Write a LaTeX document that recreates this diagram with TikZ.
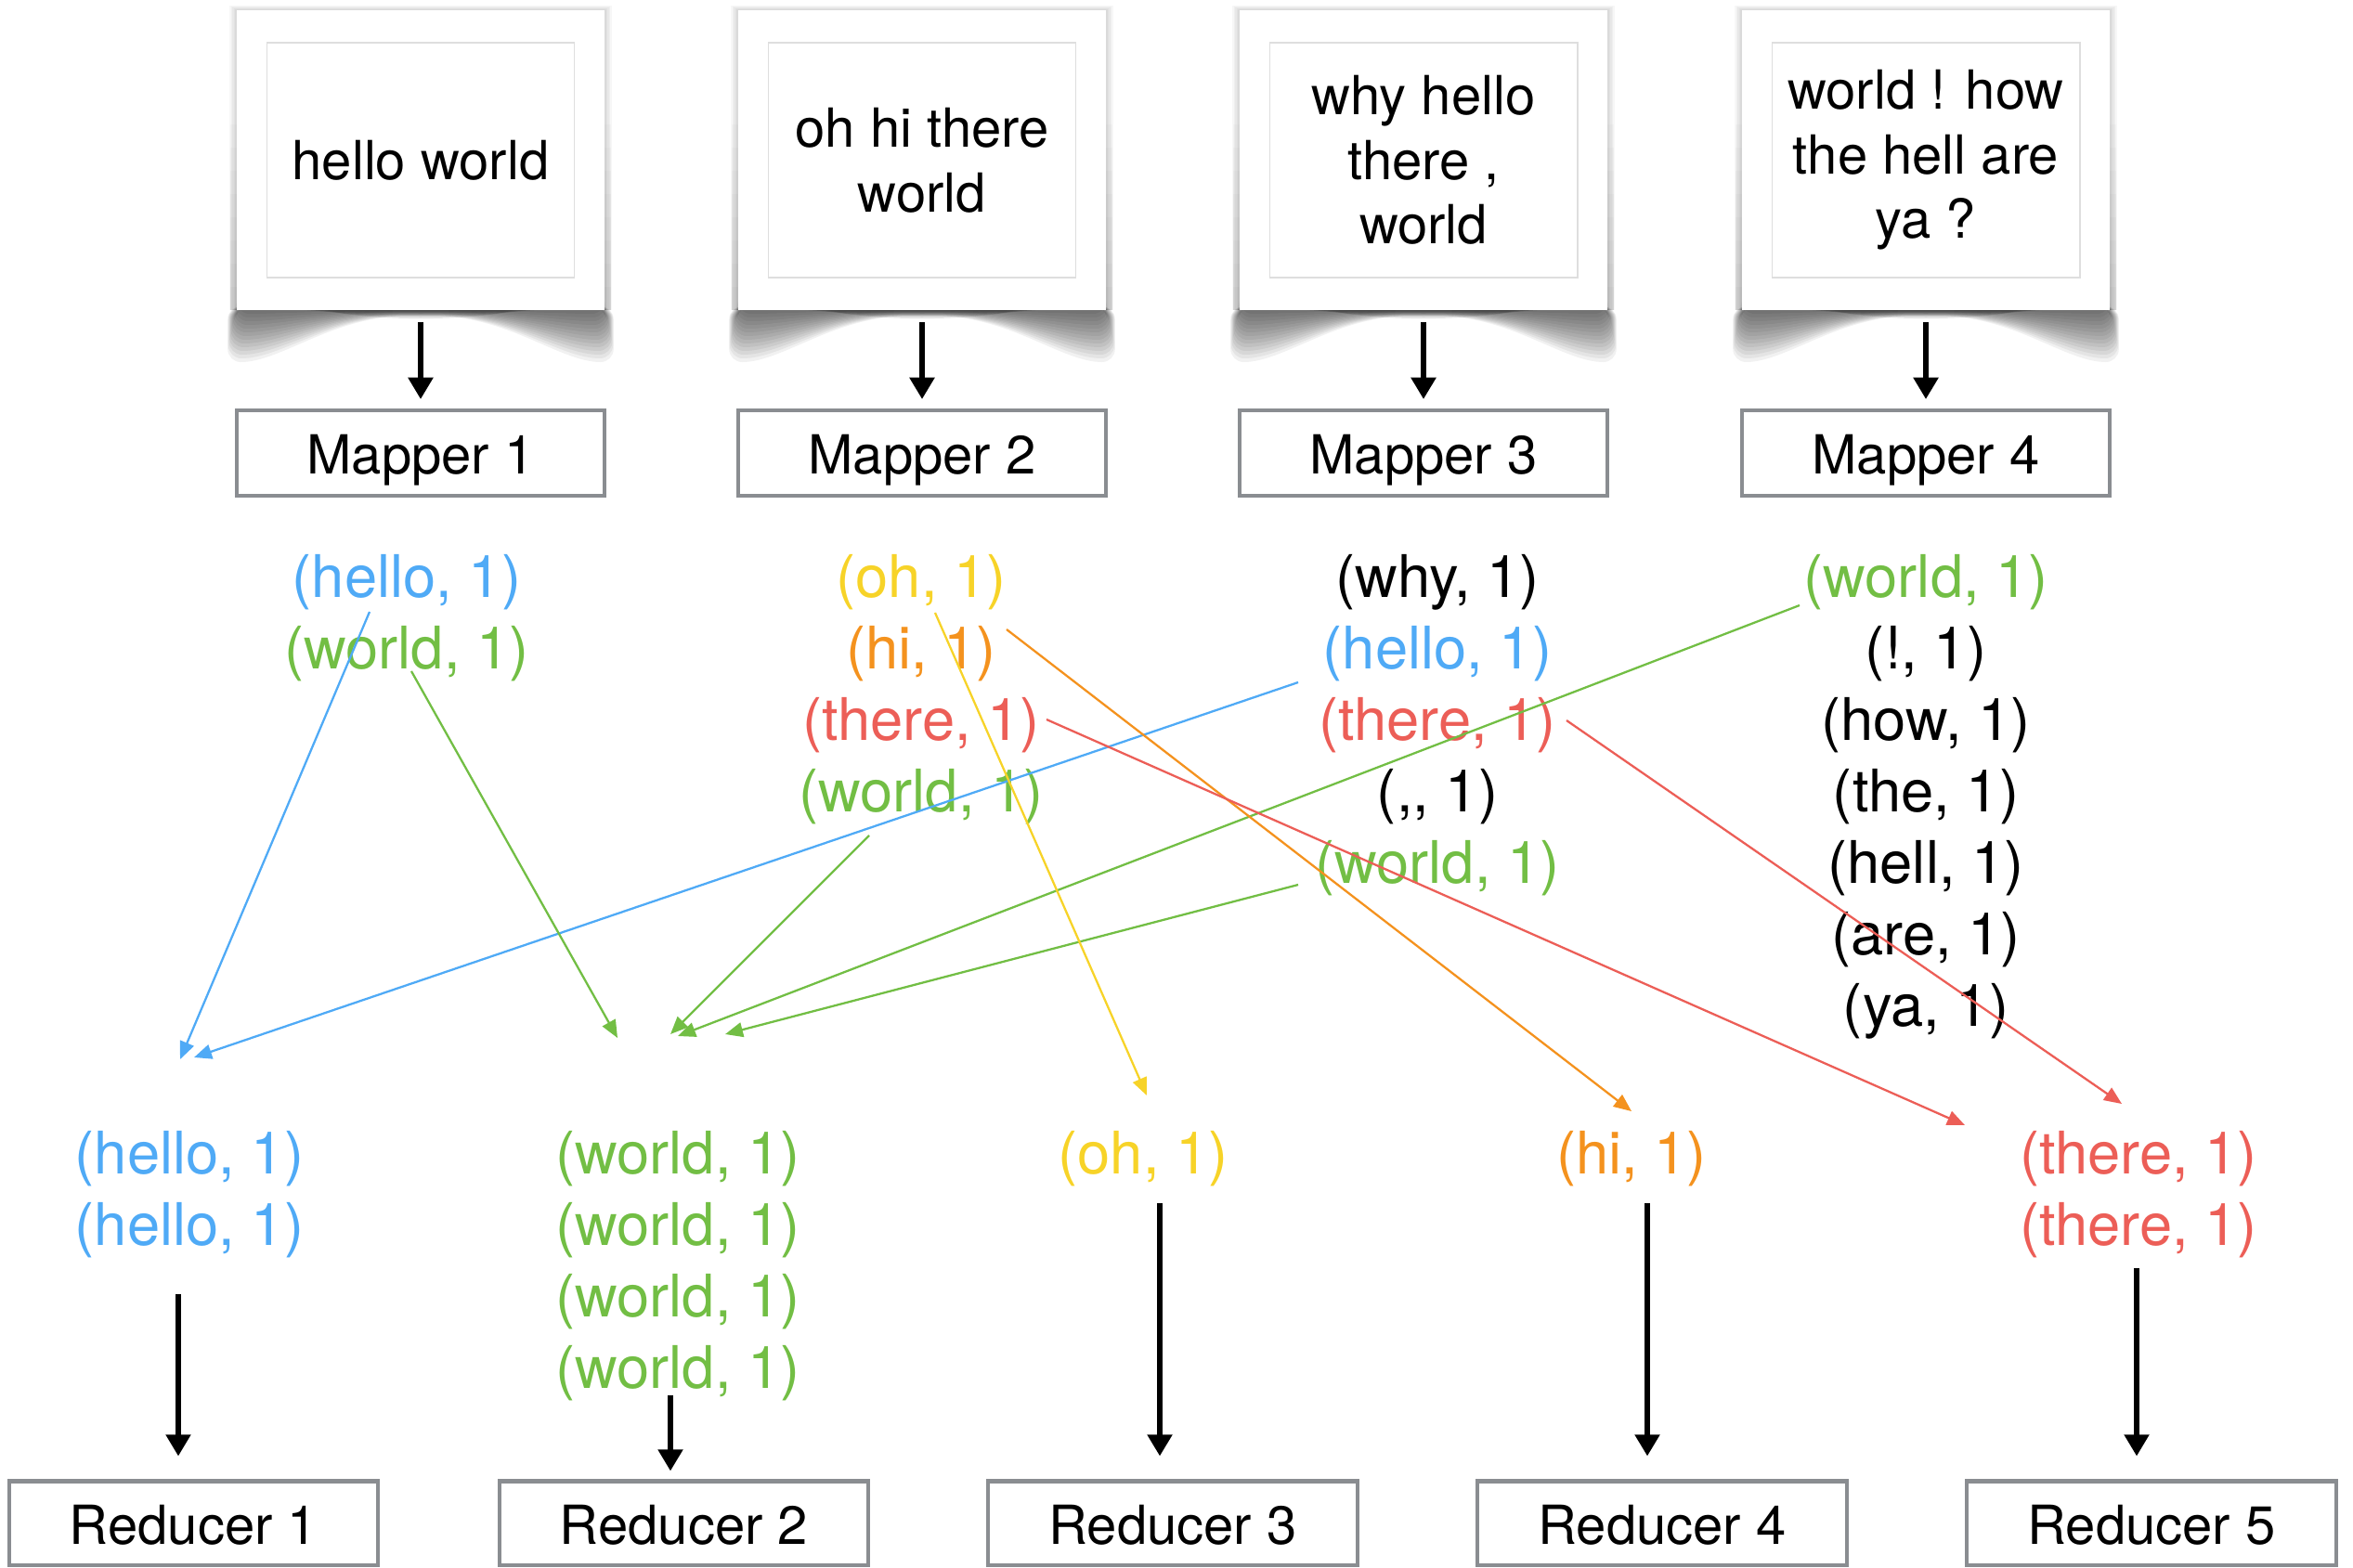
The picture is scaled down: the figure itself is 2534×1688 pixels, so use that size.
\documentclass[tikz,border=0pt]{standalone}
\usepackage{fontspec}
\setmainfont{TeX Gyre Heros}
\usetikzlibrary{arrows.meta}

\definecolor{kvblue}{RGB}{79,170,246}
\definecolor{kvgreen}{RGB}{114,190,68}
\definecolor{kvyellow}{RGB}{247,211,40}
\definecolor{kvorange}{RGB}{244,146,30}
\definecolor{kvred}{RGB}{236,94,87}
\definecolor{boxgray}{RGB}{138,141,145}
\definecolor{innergray}{RGB}{222,222,222}

\tikzset{
  stagebox/.style={draw=boxgray, line width=1.15pt, fill=white,
    minimum width=3.96cm, minimum height=0.92cm, inner sep=0pt,
    font=\fontsize{16.5}{19.8}\selectfont, text height=13pt, text depth=0pt},
  paper/.style={fill=white, minimum width=3.96cm, minimum height=3.23cm, inner sep=0pt},
  doctext/.style={draw=innergray, line width=0.5pt, minimum width=3.31cm,
    minimum height=2.53cm, inner sep=0pt, align=center,
    font=\fontsize{16.5}{19.8}\selectfont},
  pair/.style={anchor=base, inner sep=0pt, font=\fontsize{18}{21.9}\selectfont},
  flow/.style={-{Triangle[length=6.6pt,width=7.4pt]}, line width=1.5pt},
  route/.style={-{Triangle[length=5.4pt,width=4.5pt]}, line width=0.65pt},
}

\begin{document}
\begin{tikzpicture}[x=0.01cm, y=-0.01cm]
\useasboundingbox (0,0) rectangle (2534,1688);

% curled-page shadows under the input documents (bottom edge at y=334)
\foreach \cx in {453,993,1533,2074} {
  \begin{scope}[shift={(\cx,0)}]
    % soft drop shadow along the sides, darker towards the bottom
    \foreach \k in {1,...,5}
      \fill[black, opacity=0.03] (-198-1.6*\k,11-\k) rectangle (198+1.6*\k,334);
    \foreach \k in {1,...,8}
      \fill[black, opacity=0.02] (-205,334-25*\k) rectangle (205,334);
    % the curl: deep at the corners, shallow in the middle
    \foreach \k in {1,...,14} {
      \pgfmathsetmacro{\c}{4*\k}
      \pgfmathsetmacro{\m}{0.45*\k}
      \pgfmathsetmacro{\s}{0.7*\k}
      \fill[black, opacity=0.055, rounded corners=4]
        (-198-\s,330) -- (-198-\s,334+\c)
        .. controls (-150,334+\c) and (-95,334+\m) .. (0,334+\m)
        .. controls (95,334+\m) and (150,334+\c) .. (198+\s,334+\c)
        -- (198+\s,330) -- cycle;
    }
    \foreach \k in {1,...,5}
      \fill[black, opacity=0.1]
        (-165+12*\k,333) .. controls (-60,334+2.5*\k) and (60,334+2.5*\k) .. (165-12*\k,333) -- cycle;
  \end{scope}
}

% input documents
\node[paper] (d1) at (453,172.5) {};
\node[paper] (d2) at (993,172.5) {};
\node[paper] (d3) at (1533,172.5) {};
\node[paper] (d4) at (2074,172.5) {};
\node[doctext] (t1) at (453,172.5) {hello world};
\node[doctext] (t2) at (993,172.5) {oh hi there\\world};
\node[doctext] (t3) at (1533,172.5) {why hello\\there ,\\world};
\node[doctext] (t4) at (2074,172.5) {world ! how\\the hell are\\ya ?};

% mappers
\node[stagebox] (m1) at (453,488) {Mapper 1};
\node[stagebox] (m2) at (993,488) {Mapper 2};
\node[stagebox] (m3) at (1533,488) {Mapper 3};
\node[stagebox] (m4) at (2074,488) {Mapper 4};

\foreach \i in {1,2,3,4}
  \draw[flow, shorten <=0.12cm, shorten >=0.1cm] (d\i) -- (m\i);

% mapper output pairs
\node[pair, kvblue]  (c1a) at (438,643) {(hello, 1)};
\node[pair, kvgreen] (c1b) at (438,720) {(world, 1)};

\node[pair, kvyellow] (c2a) at (992,643) {(oh, 1)};
\node[pair, kvorange] (c2b) at (992,720) {(hi, 1)};
\node[pair, kvred]    (c2c) at (992,797) {(there, 1)};
\node[pair, kvgreen]  (c2d) at (992,874) {(world, 1)};

\node[pair]          (c3a) at (1548,643) {(why, 1)};
\node[pair, kvblue]  (c3b) at (1548,720) {(hello, 1)};
\node[pair, kvred]   (c3c) at (1548,797) {(there, 1)};
\node[pair]          (c3d) at (1548,874) {(,{},{} 1)};
\node[pair, kvgreen] (c3e) at (1548,951) {(world, 1)};

\node[pair, kvgreen] (c4a) at (2074,643) {(world, 1)};
\node[pair] (c4b) at (2074,720) {(!, 1)};
\node[pair] (c4c) at (2074,797) {(how, 1)};
\node[pair] (c4d) at (2074,874) {(the, 1)};
\node[pair] (c4e) at (2074,951) {(hell, 1)};
\node[pair] (c4f) at (2074,1028) {(are, 1)};
\node[pair] (c4g) at (2074,1105) {(ya, 1)};

% reducer input groups
\node[pair, kvblue] (g1a) at (204,1264) {(hello, 1)};
\node[pair, kvblue] (g1b) at (204,1341) {(hello, 1)};
\node[pair, kvgreen] (g2a) at (730,1264) {(world, 1)};
\node[pair, kvgreen] (g2b) at (730,1341) {(world, 1)};
\node[pair, kvgreen] (g2c) at (730,1418) {(world, 1)};
\node[pair, kvgreen] (g2d) at (730,1495) {(world, 1)};
\node[pair, kvyellow] (g3a) at (1231,1264) {(oh, 1)};
\node[pair, kvorange] (g4a) at (1757,1264) {(hi, 1)};
\node[pair, kvred] (g5a) at (2303,1264) {(there, 1)};
\node[pair, kvred] (g5b) at (2303,1341) {(there, 1)};

% shuffle routes
\coordinate (b1s) at (398,659);   \coordinate (b1e) at (194,1141);
\coordinate (b2s) at (1398,735);  \coordinate (b2e) at (209,1139);
\coordinate (w1s) at (443,723);   \coordinate (w1e) at (665,1118);
\coordinate (w2s) at (936,900);   \coordinate (w2e) at (722,1114);
\coordinate (w3s) at (1938,652);  \coordinate (w3e) at (730,1116);
\coordinate (w4s) at (1398,953);  \coordinate (w4e) at (781,1114);
\coordinate (ohs) at (1007,660);  \coordinate (ohe) at (1235,1180);
\coordinate (his) at (1084,678);  \coordinate (hie) at (1757,1197);
\coordinate (t1s) at (1127,775);  \coordinate (t1e) at (2116,1212);
\coordinate (t2s) at (1687,776);  \coordinate (t2e) at (2285,1189);

\draw[route, kvblue] (b1s) -- (b1e);
\draw[route, kvblue] (b2s) -- (b2e);
\draw[route, kvgreen] (w1s) -- (w1e);
\draw[route, kvgreen] (w2s) -- (w2e);
\draw[route, kvgreen] (w3s) -- (w3e);
\draw[route, kvgreen] (w4s) -- (w4e);
\draw[route, kvyellow] (ohs) -- (ohe);
\draw[route, kvorange] (his) -- (hie);
\draw[route, kvred] (t1s) -- (t1e);
\draw[route, kvred] (t2s) -- (t2e);

% reducers
\tikzset{redbox/.style={stagebox, minimum width=3.97cm, minimum height=0.9cm}}
\node[redbox] (r1) at (208.5,1640.5) {Reducer 1};
\node[redbox] (r2) at (736.5,1640.5) {Reducer 2};
\node[redbox] (r3) at (1263,1640.5) {Reducer 3};
\node[redbox] (r4) at (1790,1640.5) {Reducer 4};
\node[redbox] (r5) at (2317,1640.5) {Reducer 5};

\coordinate (q1) at (192,1394);
\coordinate (q2) at (722,1503);
\coordinate (q3) at (1249,1296);
\coordinate (q4) at (1774,1296);
\coordinate (q5) at (2301,1366);
\draw[flow, shorten >=0.25cm] (q1) -- (q1 |- r1.north);
\draw[flow, shorten >=0.09cm] (q2) -- (q2 |- r2.north);
\draw[flow, shorten >=0.25cm] (q3) -- (q3 |- r3.north);
\draw[flow, shorten >=0.25cm] (q4) -- (q4 |- r4.north);
\draw[flow, shorten >=0.25cm] (q5) -- (q5 |- r5.north);
\end{tikzpicture}
\end{document}
